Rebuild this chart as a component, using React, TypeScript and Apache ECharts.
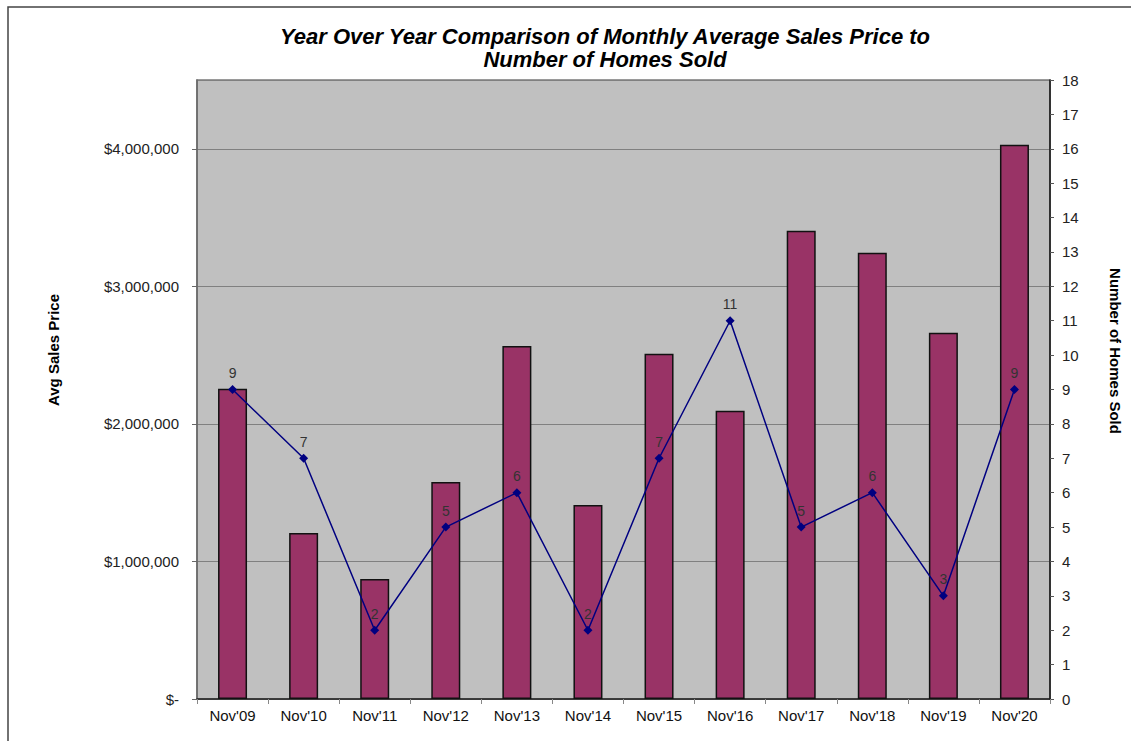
import React, { useEffect, useRef } from "react";
import * as echarts from "echarts";

const categories = ["Nov'09", "Nov'10", "Nov'11", "Nov'12", "Nov'13", "Nov'14", "Nov'15", "Nov'16", "Nov'17", "Nov'18", "Nov'19", "Nov'20"];
const avgSalesPrice = [2255000, 1207000, 873000, 1578000, 2567000, 1411000, 2509000, 2095000, 3404000, 3244000, 2662000, 4029000];
const homesSold = [9, 7, 2, 5, 6, 2, 7, 11, 5, 6, 3, 9];

const FONT = "'Liberation Sans', Arial, sans-serif";

function fmtMoney(v: number): string {
  if (v === 0) return "$-";
  if (v % 1000000 !== 0) return "";
  return "$" + v.toLocaleString("en-US");
}

export default function App() {
  const ref = useRef<HTMLDivElement>(null);
  useEffect(() => {
    document.body.style.margin = "0";
    const chart = echarts.init(ref.current!, undefined, { renderer: "svg" });
    chart.setOption({
      animation: false,
      backgroundColor: "#ffffff",
      textStyle: { fontFamily: FONT },
      title: {
        text: "Year Over Year Comparison of Monthly Average Sales Price to\nNumber of Homes Sold",
        left: 600,
        top: 20,
        textAlign: "center",
        textStyle: {
          fontFamily: FONT,
          fontSize: 22,
          fontWeight: "bold",
          fontStyle: "italic",
          color: "#000",
          lineHeight: 23,
        },
      },
      graphic: [
        {
          type: "rect",
          shape: { x: 8, y: 7, width: 1200, height: 800 },
          style: { fill: "none", stroke: "#444", lineWidth: 1.5 },
          silent: true,
          z: -1,
        },
        {
          type: "text",
          x: 53,
          y: 350,
          rotation: Math.PI / 2,
          silent: true,
          style: {
            text: "Avg Sales Price",
            fill: "#000",
            font: "bold 15px " + FONT,
            textAlign: "center",
            textVerticalAlign: "middle",
            align: "center",
            verticalAlign: "middle",
          },
        },
        {
          type: "text",
          x: 1115,
          y: 351,
          rotation: -Math.PI / 2,
          silent: true,
          style: {
            text: "Number of Homes Sold",
            fill: "#000",
            font: "bold 15px " + FONT,
            textAlign: "center",
            textVerticalAlign: "middle",
            align: "center",
            verticalAlign: "middle",
          },
        },
      ],
      grid: {
        left: 197,
        right: 81,
        top: 80,
        bottom: 42,
        show: true,
        backgroundColor: "#c0c0c0",
        borderColor: "#7a7a7a",
        borderWidth: 1.5,
      },
      xAxis: {
        type: "category",
        data: categories,
        boundaryGap: true,
        axisLine: { lineStyle: { color: "#222", width: 1.5 } },
        axisTick: { show: true, length: 5, lineStyle: { color: "#888" } },
        axisLabel: { color: "#111", fontSize: 15, margin: 9, fontFamily: FONT },
      },
      yAxis: [
        {
          type: "value",
          min: 0,
          max: 4500000,
          interval: 1000000,
          position: "left",
          axisLine: { show: true, lineStyle: { color: "#666", width: 1.5 } },
          axisTick: { show: true, length: 5, lineStyle: { color: "#666" } },
          axisLabel: { formatter: fmtMoney, color: "#222", fontSize: 15, margin: 18, fontFamily: FONT, showMaxLabel: false },
          splitLine: { show: true, lineStyle: { color: "#808080", width: 1 } },
        },
        {
          type: "value",
          min: 0,
          max: 18,
          interval: 1,
          position: "right",
          axisLine: { show: true, lineStyle: { color: "#111", width: 1.5 } },
          axisTick: { show: true, length: 4, lineStyle: { color: "#555" } },
          axisLabel: { color: "#222", fontSize: 15, margin: 12, fontFamily: FONT },
          splitLine: { show: false },
        },
      ],
      series: [
        {
          type: "bar",
          name: "Avg Sales Price",
          data: avgSalesPrice,
          yAxisIndex: 0,
          barWidth: 29,
          itemStyle: { color: "#993366", borderColor: "#111", borderWidth: 1.5 },
        },
        {
          type: "line",
          name: "Number of Homes Sold",
          data: homesSold,
          yAxisIndex: 1,
          symbol: "diamond",
          symbolSize: 9,
          lineStyle: { color: "#000080", width: 1.5 },
          itemStyle: { color: "#000080" },
          label: { show: true, position: "top", distance: 5, color: "#333", fontSize: 14, fontFamily: FONT },
        },
      ],
    });
    return () => chart.dispose();
  }, []);
  return <div ref={ref} style={{ width: 1131, height: 741 }} />;
}
